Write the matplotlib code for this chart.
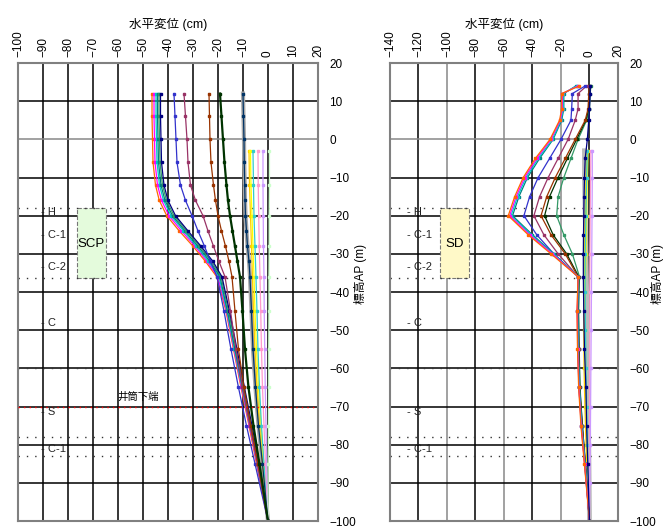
import numpy as np
import matplotlib
matplotlib.use('Agg')
import matplotlib.pyplot as plt
from matplotlib.patches import Rectangle

plt.rcParams['font.family'] = ['Liberation Sans', 'Noto Sans CJK JP']

# ---- left panel (SCP) ----
dep_l = [12, 6, 0, -6, -12, -16, -20, -24, -28, -32, -36, -45, -55, -65, -75, -85, -100]
l_orange  = [-46.4, -46.4, -46.2, -46.0, -45.0, -43.5, -40.5, -35.5, -30.0, -25.0, -20.5, -16.8, -13.8, -10.8, -7.6, -4.6, 0]
l_magenta = [-45.6, -45.6, -45.4, -45.2, -44.2, -42.6, -39.6, -34.6, -29.2, -24.4, -20.0, -16.6, -13.6, -10.6, -7.4, -4.4, 0]
l_cyan    = [-44.8, -44.8, -44.6, -44.4, -43.4, -41.8, -38.8, -33.8, -28.6, -23.8, -19.6, -16.4, -13.4, -10.4, -7.2, -4.2, 0]
l_teal    = [-44.2, -44.2, -44.0, -43.8, -42.8, -41.2, -38.2, -33.2, -28.0, -23.2, -19.2, -16.2, -13.2, -10.2, -7.0, -4.0, 0]
l_green   = [-43.6, -43.6, -43.4, -43.2, -42.2, -40.6, -37.6, -32.6, -27.4, -22.6, -18.8, -15.8, -12.8, -9.8, -6.8, -3.8, 0]
l_navy    = [-43.0, -43.0, -42.8, -42.6, -41.6, -40.0, -37.0, -32.0, -26.8, -22.0, -18.4, -15.4, -12.4, -9.4, -6.4, -3.6, 0]
l_blue    = [-37.6, -37.2, -36.8, -36.4, -35.0, -33.0, -30.4, -28.0, -25.4, -23.0, -20.4, -17.6, -14.8, -11.8, -8.6, -5.2, 0]
l_purple  = [-33.6, -33.0, -32.4, -32.0, -31.0, -29.0, -26.0, -24.0, -21.8, -19.6, -17.2, -15.0, -12.8, -10.2, -7.2, -4.2, 0]
l_brown   = [-23.6, -23.4, -23.2, -22.8, -21.8, -21.0, -20.0, -18.6, -17.0, -15.6, -14.4, -13.2, -11.8, -9.6, -6.8, -4.0, 0]
l_dgreen  = [-19.2, -18.6, -18.0, -17.4, -16.6, -16.0, -15.2, -14.2, -13.2, -12.2, -11.2, -10.2, -9.2, -7.8, -5.8, -3.4, 0]
l_gray    = [-10.0, -9.8, -9.6, -9.5, -9.3, -9.2, -9.0, -8.6, -8.2, -7.6, -7.2, -6.6, -6.0, -5.0, -3.8, -2.2, 0]

dep_l2 = [-3, -12, -20, -28, -36, -45, -55, -65, -75, -85, -100]
l_gold   = [-7.6, -7.4, -7.0, -6.6, -6.2, -5.8, -5.2, -4.4, -3.4, -2.2, 0]
l_yellow = [-7.0, -6.8, -6.4, -6.0, -5.6, -5.2, -4.6, -3.8, -2.8, -1.8, 0]
l_lcyan  = [-6.0, -5.8, -5.6, -5.2, -4.8, -4.4, -4.0, -3.4, -2.6, -1.6, 0]
l_pink   = [-4.0, -3.9, -3.7, -3.5, -3.2, -2.9, -2.6, -2.2, -1.6, -1.0, 0]
l_violet = [-2.0, -2.0, -1.9, -1.8, -1.6, -1.5, -1.3, -1.1, -0.8, -0.5, 0]
l_lgreen = [0.6, 0.6, 0.5, 0.5, 0.4, 0.4, 0.3, 0.3, 0.2, 0.1, 0]

# ---- right panel (SD) ----
dep_r = [14, 12, 8, 5, 0, -5, -10, -15, -20, -25, -30, -36, -45, -55, -65, -75, -85, -100]
r_orange  = [-7.0, -19.5, -19.5, -21.0, -27.7, -38.0, -46.5, -52.5, -57.0, -43.0, -27.0, -8.0, -8.8, -8.4, -7.6, -6.0, -3.6, 0]
r_magenta = [-8.0, -19.0, -19.0, -20.5, -27.0, -37.0, -45.5, -51.5, -56.0, -42.0, -26.0, -8.0, -8.6, -8.2, -7.4, -5.8, -3.4, 0]
r_cyan    = [-9.0, -18.5, -18.5, -20.0, -26.0, -36.0, -44.5, -50.5, -55.0, -41.0, -25.5, -8.0, -8.4, -8.0, -7.2, -5.6, -3.2, 0]
r_green   = [-9.5, -18.0, -18.0, -19.5, -25.5, -35.0, -43.5, -49.5, -54.0, -40.0, -25.0, -8.0, -8.2, -7.8, -7.0, -5.4, -3.0, 0]
r_blue    = [-3.0, -12.0, -12.5, -13.0, -20.0, -28.0, -36.0, -42.0, -46.0, -37.0, -25.0, -8.0, -8.4, -8.0, -7.4, -5.6, -3.4, 0]
r_purple  = [-2.0, -8.0, -8.0, -10.0, -15.0, -22.0, -29.0, -35.0, -39.0, -32.0, -22.0, -8.0, -8.2, -7.8, -7.2, -5.4, -3.2, 0]
r_brown   = [0.0, -0.5, -1.0, -3.0, -10.0, -17.0, -24.0, -30.0, -34.0, -27.0, -17.0, -8.0, -8.0, -7.6, -7.0, -5.2, -3.0, 0]
r_dgreen  = [0.5, 0.0, -0.5, -2.5, -9.0, -15.5, -22.0, -28.0, -31.5, -25.5, -16.0, -7.5, -7.8, -7.4, -6.8, -5.0, -2.9, 0]
r_teal    = [1.0, 0.5, 0.0, -2.0, -8.0, -13.0, -18.0, -22.0, -23.0, -18.0, -12.0, -7.0, -7.6, -7.2, -6.6, -5.0, -2.8, 0]
r_navy    = [0.5, 0.5, 0.0, -0.5, -1.5, -3.0, -3.5, -3.8, -4.0, -4.2, -4.3, -4.3, -4.0, -3.5, -2.5, -2.0, -1.2, 0]

dep_r2 = [-3, -10, -20, -30, -40, -50, -60, -70, -80, -90, -100]
r_gray   = [-3.5, -3.5, -3.0, -2.5, -2.0, -1.6, -1.2, -0.8, -0.5, -0.2, 0]
r_gold   = [-2.0, -2.5, -3.0, -3.5, -4.0, -4.0, -3.8, -3.2, -2.4, -1.4, 0]
r_yellow = [-1.0, -1.5, -2.0, -2.5, -3.0, -3.0, -2.8, -2.4, -1.8, -1.0, 0]
r_lcyan  = [-1.5, -2.0, -2.5, -3.0, -3.0, -2.8, -2.4, -2.0, -1.4, -0.8, 0]
r_pink   = [1.0, 0.8, 0.5, 0.3, 0.2, 0.2, 0.1, 0.1, 0.1, 0.0, 0]
r_violet = [2.0, 2.0, 1.8, 1.6, 1.4, 1.2, 1.0, 0.8, 0.6, 0.3, 0]

# soil layers
layer_names = ['H', 'C-1', 'C-2', 'C', 'S', 'C-1']
layer_depth = [-19, -25, -33.5, -48, -71.5, -81]
boundaries = [-18, -36.3, -60, -78, -83]


def draw_curve(ax, x, y, c, lw=0.9, ms=1.6):
    ax.plot(x, y, color=c, lw=lw, marker='s', ms=ms, mec=c, mfc=c)


def setup(ax, xmin, xmax, step, ylab_x, gray_x=()):
    ax.set_xlim(xmin, xmax)
    ax.set_ylim(-100, 20)
    ax.xaxis.tick_top()
    ax.xaxis.set_label_position('top')
    ax.yaxis.tick_right()
    ax.yaxis.set_label_position('right')
    ax.set_xticks(np.arange(xmin, xmax + 1, step))
    ax.set_yticks(np.arange(-100, 21, 10))
    ax.tick_params(axis='x', labelrotation=90, labelsize=8.5, length=0, pad=4)
    ax.tick_params(axis='y', labelsize=8.5, length=0, pad=8)
    ax.set_xlabel('水平変位 (cm)', fontsize=9, labelpad=2)
    ax.set_ylabel('標高AP (m)', fontsize=8.5)
    ax.yaxis.set_label_coords(ylab_x, 0.54)
    for v in np.arange(xmin + step, xmax, step):
        ax.axvline(v, color='#888888' if v in gray_x else 'black', lw=1.1, zorder=1)
    for v in range(-90, 20, 10):
        ax.axhline(v, color='#888888' if v == 0 else 'black', lw=1.1, zorder=1)
    for s in ax.spines.values():
        s.set_color('#808080')
        s.set_linewidth(1.5)
    for b in boundaries:
        ax.axhline(b, color='#333333', lw=1.0, ls=(0, (1, 5)), zorder=2)


fig = plt.figure(figsize=(6.68, 5.31), dpi=100)
ax1 = fig.add_axes([0.027, 0.0188, 0.449, 0.8625])
ax2 = fig.add_axes([0.5838, 0.0188, 0.3413, 0.8625])

setup(ax1, -100, 20, 10, 1.12)
setup(ax2, -140, 20, 20, 1.145, gray_x=(-100, -60, -20))

# left panel
ax1.axhline(-70, color='red', lw=1.0, ls=(0, (1, 3)), zorder=3)
ax1.text(-52, -68.8, '井筒下端', fontsize=7.5, ha='center', va='bottom')
ax1.add_patch(Rectangle((-76.4, -36.3), 11.6, 18.3, facecolor='#e4fbdc',
                        edgecolor='#777777', ls='--', lw=0.8, zorder=1.5))
ax1.text(-70.6, -27.5, 'SCP', fontsize=9.5, ha='center', va='center')
for name, d in zip(layer_names, layer_depth):
    ax1.text(-90.8, d, '- ' + name, fontsize=8, color='#222222', va='center')

draw_curve(ax1, l_gray, dep_l, '#aaaaaa', lw=3.0, ms=0)
for x, c in [(l_gold, '#ffcc00'), (l_yellow, '#ffff00'), (l_lcyan, '#33cccc'),
             (l_pink, '#ff99cc'), (l_violet, '#cc99ff'), (l_lgreen, '#ccffcc')]:
    draw_curve(ax1, x, dep_l2, c)
for x, c in [(l_orange, '#ff6600'), (l_magenta, '#ff00ff'), (l_cyan, '#00cccc'),
             (l_teal, '#008080'), (l_green, '#339966'), (l_navy, '#000080'),
             (l_blue, '#3333cc'), (l_purple, '#993366'), (l_brown, '#993300'),
             (l_gray, '#003366')]:
    draw_curve(ax1, x, dep_l, c)
draw_curve(ax1, l_dgreen, dep_l, '#003300', lw=1.6)

# right panel
ax2.add_patch(Rectangle((-104.9, -36.3), 20.3, 18.3, facecolor='#fff9c8',
                        edgecolor='#777777', ls='--', lw=0.8, zorder=1.5))
ax2.text(-94.7, -27.5, 'SD', fontsize=9.5, ha='center', va='center')
for name, d in zip(layer_names, layer_depth):
    ax2.text(-128, d, '- ' + name, fontsize=8, color='#222222', va='center')

draw_curve(ax2, r_gray, dep_r2, '#bbbbbb', lw=3.5, ms=0)
for x, c in [(r_gold, '#ffcc00'), (r_yellow, '#ffff00'), (r_lcyan, '#33cccc'),
             (r_pink, '#ff99cc'), (r_violet, '#cc99ff')]:
    draw_curve(ax2, x, dep_r2, c)
for x, c in [(r_teal, '#339966'), (r_dgreen, '#003300'), (r_brown, '#993300'),
             (r_purple, '#993366'), (r_blue, '#3333cc'), (r_green, '#008080'),
             (r_cyan, '#00cccc'), (r_magenta, '#ff00ff'), (r_orange, '#ff6600'),
             (r_navy, '#000080')]:
    draw_curve(ax2, x, dep_r, c)

fig.savefig('out.png', dpi=100)
